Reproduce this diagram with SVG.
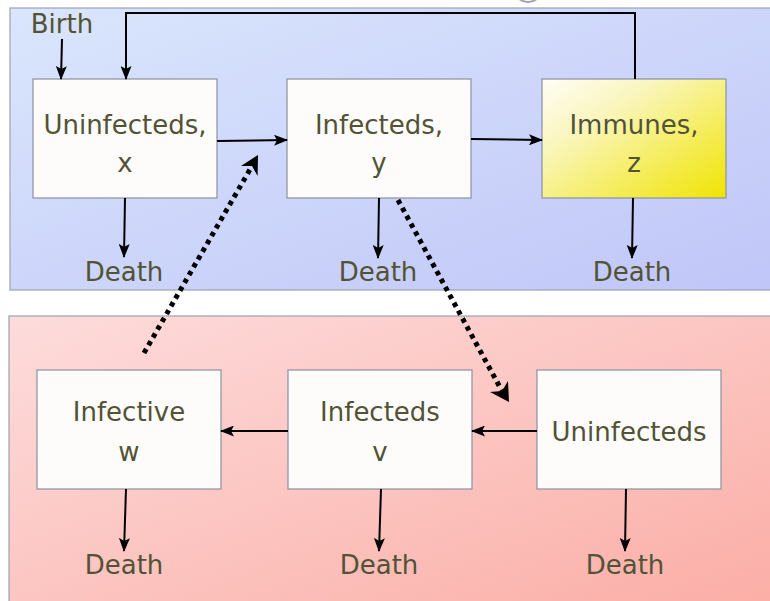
<svg xmlns="http://www.w3.org/2000/svg" width="770" height="601" viewBox="0 0 770 601">
<style>
.box{fill:#fefcfa;stroke:#9098a8;stroke-width:1.3}
.t{font-family:"DejaVu Sans","Open Sans",sans-serif;font-size:26px;fill:#525236;text-anchor:middle}
.ln{stroke:#000;stroke-width:2;fill:none}
.dot{stroke:#000;stroke-width:5;fill:none;stroke-dasharray:4.5 4.5}
</style>
<defs>
<linearGradient id="gBlue" x1="0" y1="0" x2="1" y2="1">
<stop offset="0" stop-color="#dae6fc"/><stop offset="1" stop-color="#c0c6f8"/>
</linearGradient>
<linearGradient id="gRed" x1="0" y1="0" x2="1" y2="1">
<stop offset="0" stop-color="#fddcdc"/><stop offset="1" stop-color="#fbaea6"/>
</linearGradient>
<linearGradient id="gYel" x1="0" y1="0" x2="1" y2="1">
<stop offset="0" stop-color="#fffef6"/><stop offset="0.3" stop-color="#faf6c0"/><stop offset="1" stop-color="#f0e400"/>
</linearGradient>
<marker id="ah" markerWidth="14" markerHeight="11" refX="13" refY="5.5" orient="auto" markerUnits="userSpaceOnUse">
<path d="M0,0 L14,5.5 L0,11 L3,5.5 Z" fill="#000"/>
</marker>
</defs>
<rect x="0" y="0" width="770" height="601" fill="#ffffff"/>
<circle cx="528" cy="-12" r="14" fill="none" stroke="#9aa0b0" stroke-width="2"/>
<g id="panel-top"><rect x="10" y="8" width="762" height="282" fill="url(#gBlue)" stroke="#a0a8b8" stroke-width="1.3"/></g>
<g id="panel-bottom"><rect x="9" y="316" width="763" height="290" fill="url(#gRed)" stroke="#a0a8b8" stroke-width="1.3"/></g>

<g id="birth"><text class="t" x="62" y="33">Birth</text></g>
<g id="uninfected-x"><rect class="box" x="33" y="79" width="184" height="119"/><text class="t" x="125" y="134">Uninfecteds,</text><text class="t" x="125" y="172">x</text></g>
<g id="infected-y"><rect class="box" x="287" y="79" width="184" height="119"/><text class="t" x="379" y="134">Infecteds,</text><text class="t" x="379" y="172">y</text></g>
<g id="immune-z"><rect x="542" y="79" width="184" height="119" fill="url(#gYel)" stroke="#9098a8" stroke-width="1.3"/><text class="t" x="634" y="134">Immunes,</text><text class="t" x="634" y="172">z</text></g>
<g id="death1"><text class="t" x="124" y="281">Death</text></g>
<g id="death2"><text class="t" x="378" y="281">Death</text></g>
<g id="death3"><text class="t" x="632" y="281">Death</text></g>

<g id="infective-w"><rect class="box" x="37" y="370" width="184" height="119"/><text class="t" x="129" y="421">Infective</text><text class="t" x="129" y="461">w</text></g>
<g id="infected-v"><rect class="box" x="288" y="370" width="184" height="119"/><text class="t" x="380" y="421">Infecteds</text><text class="t" x="380" y="461">v</text></g>
<g id="uninfected-v"><rect class="box" x="537" y="370" width="184" height="119"/><text class="t" x="629" y="441">Uninfecteds</text></g>
<g id="death4"><text class="t" x="124" y="574">Death</text></g>
<g id="death5"><text class="t" x="379" y="574">Death</text></g>
<g id="death6"><text class="t" x="625" y="574">Death</text></g>

<g id="connectors">
<line class="ln" x1="62" y1="39" x2="61" y2="79" marker-end="url(#ah)"/>
<polyline class="ln" points="635,79 635,13 126,13 126,79" marker-end="url(#ah)"/>
<line class="ln" x1="217" y1="141" x2="287" y2="140" marker-end="url(#ah)"/>
<line class="ln" x1="471" y1="139" x2="542" y2="140" marker-end="url(#ah)"/>
<line class="ln" x1="125" y1="198" x2="124" y2="257" marker-end="url(#ah)"/>
<line class="ln" x1="379" y1="198" x2="378" y2="258" marker-end="url(#ah)"/>
<line class="ln" x1="633" y1="198" x2="632" y2="258" marker-end="url(#ah)"/>
<line class="ln" x1="537" y1="431" x2="472" y2="431" marker-end="url(#ah)"/>
<line class="ln" x1="288" y1="431" x2="221" y2="431" marker-end="url(#ah)"/>
<line class="ln" x1="126" y1="489" x2="124" y2="551" marker-end="url(#ah)"/>
<line class="ln" x1="381" y1="489" x2="379" y2="551" marker-end="url(#ah)"/>
<line class="ln" x1="626" y1="489" x2="625" y2="551" marker-end="url(#ah)"/>
<line class="dot" x1="144" y1="353" x2="252" y2="166"/>
<path d="M258,155 L257.6,176 L252,166 L241,166 Z" fill="#000"/>
<line class="dot" x1="398" y1="200" x2="502" y2="391"/>
<path d="M509,402 L490,392 L502,391 L508,381 Z" fill="#000"/>
</g>
</svg>
